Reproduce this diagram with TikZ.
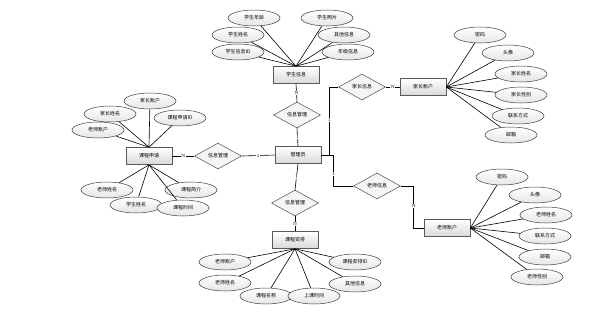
\documentclass[tikz,border=0pt]{standalone}
\usepackage{fontspec}
\newfontfamily\cjk{Noto Sans CJK SC}
\usetikzlibrary{shapes.geometric}
\tikzset{
  ent/.style={draw=black!65, line width=0.6pt, top color=white, bottom color=black!15, minimum width=46pt, minimum height=17pt, inner sep=0pt, font=\cjk\fontsize{5}{6}\selectfont},
  attr/.style={ellipse, draw=black!75, line width=0.5pt, top color=white, bottom color=black!10, minimum width=52pt, minimum height=16pt, inner sep=0pt, font=\cjk\fontsize{5}{6}\selectfont},
  rel/.style={diamond, draw=black!70, line width=0.5pt, fill=black!4, minimum width=47pt, minimum height=26pt, inner sep=0pt, font=\cjk\fontsize{5}{6}\selectfont},
  lnk/.style={draw=black, line width=0.6pt},
  card/.style={fill=white, inner sep=0.4pt, font=\fontsize{4.5}{5}\selectfont}
}
\begin{document}
\begin{tikzpicture}[x=1pt,y=-1pt]
\useasboundingbox (0,0) rectangle (599,325);
% entities
\node[ent] (gl) at (298,155) {管理员};
\node[ent] (xs) at (296,75) {学生信息};
\node[ent] (kc) at (149,156) {课程申请};
\node[ent] (ka) at (295,240) {课程安排};
\node[ent] (jz) at (423,87) {家长账户};
\node[ent] (tz) at (447,228) {老师账户};
% relations
\node[rel] (d1) at (297,115) {信息管理};
\node[rel] (dm) at (218,156) {信息管理};
\node[rel] (d2) at (295,203) {信息管理};
\node[rel] (jx) at (362,87) {家长信息};
\node[rel] (tx) at (377,186) {老师信息};
% student attributes
\node[attr] (s1) at (254,18) {学生年龄};
\node[attr] (s2) at (327,18) {学生照片};
\node[attr] (s3) at (238,35) {学生姓名};
\node[attr] (s4) at (344,35) {其他信息};
\node[attr] (s5) at (238,52) {学生信息ID};
\node[attr] (s6) at (348,52) {年级信息};
\foreach \a in {s1,s2,s3,s4,s5,s6} \draw[lnk] (xs.north) -- (\a);
% course application attributes
\node[attr] (c1) at (150,101) {家长账户};
\node[attr] (c2) at (110,114) {家长姓名};
\node[attr] (c3) at (180,118) {课程申请ID};
\node[attr] (c4) at (98,130) {老师账户};
\node[attr] (c5) at (107,190) {老师姓名};
\node[attr] (c6) at (136,205) {学生姓名};
\node[attr] (c7) at (191,190) {课程简介};
\node[attr] (c8) at (183,208) {课程时间};
\foreach \a in {c1,c2,c3,c4} \draw[lnk] (kc.north) -- (\a);
\foreach \a in {c5,c6,c7,c8} \draw[lnk] (kc.south) -- (\a);
% course arrangement attributes
\node[attr] (k1) at (225,262) {老师账户};
\node[attr] (k2) at (225,283) {老师姓名};
\node[attr] (k3) at (266,296) {课程名称};
\node[attr] (k4) at (314,296) {上课时间};
\node[attr] (k5) at (355,262) {课程安排ID};
\node[attr] (k6) at (355,284) {其他信息};
\foreach \a in {k1,k2,k3,k4,k5,k6} \draw[lnk] (ka.south) -- (\a);
% parent attributes
\node[attr] (p1) at (480,35) {密码};
\node[attr] (p2) at (508,53) {头像};
\node[attr] (p3) at (521,74) {家长姓名};
\node[attr] (p4) at (521,95) {家长性别};
\node[attr] (p5) at (518,116) {联系方式};
\node[attr] (p6) at (511,135) {邮箱};
\foreach \a in {p1,p2,p3,p4,p5,p6} \draw[lnk] (jz.east) -- (\a);
% teacher attributes
\node[attr] (t1) at (502,177) {密码};
\node[attr] (t2) at (535,195) {头像};
\node[attr] (t3) at (546,215) {老师姓名};
\node[attr] (t4) at (545,236) {联系方式};
\node[attr] (t5) at (545,257) {邮箱};
\node[attr] (t6) at (537,277) {老师性别};
\foreach \a in {t1,t2,t3,t4,t5,t6} \draw[lnk] (tz.east) -- (\a);
% relationship connectors
\draw[lnk] (xs.south) -- (d1.north) node[midway,card] {N};
\draw[lnk] (d1.south) -- (gl.north) node[midway,card] {1};
\draw[lnk] (kc.east) -- (dm.west) node[midway,card] {N};
\draw[lnk] (dm.east) -- (gl.west) node[midway,card] {1};
\draw[lnk] (gl.south) -- (d2.north) node[midway,card] {1};
\draw[lnk] (d2.south) -- (ka.north) node[midway,card] {N};
\draw[lnk] (gl.east) -- ++(8,0) |- (jx.west) node[pos=0.26,card] {1};
\draw[lnk] (jx.east) -- (jz.west) node[midway,card] {N};
\draw[lnk] (gl.east) -- ++(12,0) |- (tx.west) node[pos=0.3,card] {1};
\draw[lnk] (tx.east) -- ++(13,0) |- (tz.west) node[pos=0.24,card] {N};
\end{tikzpicture}
\end{document}
